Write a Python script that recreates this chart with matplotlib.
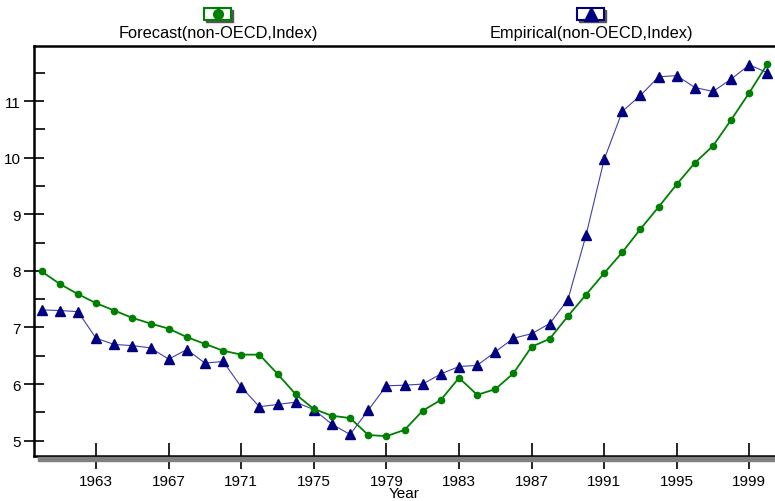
import matplotlib
matplotlib.use("Agg")
import matplotlib.pyplot as plt
from matplotlib.patches import Rectangle
from matplotlib.lines import Line2D

plt.rcParams["font.family"] = ["Liberation Sans", "DejaVu Sans"]

years = list(range(1960, 2001))
forecast = [7.99, 7.77, 7.59, 7.43, 7.30, 7.17, 7.07, 6.98, 6.83, 6.71,
            6.59, 6.52, 6.52, 6.18, 5.82, 5.56, 5.44, 5.40, 5.10, 5.08,
            5.19, 5.53, 5.72, 6.11, 5.81, 5.91, 6.19, 6.66, 6.80, 7.20,
            7.58, 7.96, 8.33, 8.74, 9.13, 9.53, 9.91, 10.21, 10.67, 11.15,
            11.66]
empirical = [7.31, 7.30, 7.28, 6.81, 6.70, 6.68, 6.64, 6.44, 6.61, 6.37,
             6.40, 5.95, 5.60, 5.64, 5.68, 5.55, 5.29, 5.11, 5.54, 5.97,
             5.98, 6.00, 6.18, 6.31, 6.33, 6.57, 6.81, 6.89, 7.07, 7.49,
             8.63, 9.97, 10.82, 11.10, 11.43, 11.45, 11.24, 11.17, 11.39, 11.64,
             11.50]
xticks = list(range(1963, 2000, 4))
yticks = list(range(5, 12))
yminor = [y + 0.5 for y in range(5, 12)]

green = "#008000"
navy = "#000080"

W, H = 775, 502
fig = plt.figure(figsize=(W / 100, H / 100), dpi=100)
ax = fig.add_axes([34 / W, 1 - 457.3 / H, 741 / W, (457.3 - 46.7) / H])

ax.plot(years, empirical, color="#4040a8", lw=0.8, marker="^", ms=7,
        mfc=navy, mec=navy, zorder=3)
ax.plot(years, forecast, color=green, lw=1.3, marker="o", ms=4.5,
        mfc=green, mec=green, zorder=4)

ax.set_xticks(xticks)
ax.set_xticklabels([str(y) for y in xticks], fontsize=11)
ax.set_yticks(yticks)
ax.set_yticklabels([str(y) for y in yticks], fontsize=11)
ax.set_yticks(yminor, minor=True)
ax.set_xlim(1959.58, 2000 + 7.5 / 18.145)
ax.set_ylim(4.724, 11.979)
ax.tick_params(axis="x", which="major", direction="inout", length=19, width=1.2, pad=3)
ax.tick_params(axis="y", which="major", direction="inout", length=15, width=1.2, pad=2)
ax.tick_params(axis="y", which="minor", direction="in", length=8, width=1.2)
ax.tick_params(axis="x", which="minor", bottom=False)

for side in ["left", "top", "bottom"]:
    ax.spines[side].set_linewidth(1.8)
ax.spines["right"].set_visible(False)

ax.set_xlabel("Year", fontsize=11, labelpad=-1)

# gray shadow under the x axis
fig.add_artist(Rectangle((38 / W, 1 - 461.5 / H), (W - 38) / W, 3.5 / H,
                         transform=fig.transFigure, color="#808080", zorder=1))

# legend boxes above the plot
def legendBox(cx, label, marker, color, ms):
    x0, y0, w, h = cx - 14, 9, 27, 12
    fig.add_artist(Rectangle(((x0 + 2) / W, 1 - (y0 + h + 2) / H), w / W, h / H,
                             transform=fig.transFigure, color="#555555", zorder=1))
    fig.add_artist(Rectangle((x0 / W, 1 - (y0 + h) / H), w / W, h / H,
                             transform=fig.transFigure, facecolor="white",
                             edgecolor=color, lw=1.5, zorder=2))
    fig.add_artist(Line2D([cx / W], [1 - (y0 + h / 2) / H], marker=marker, ms=ms,
                          color=color, transform=fig.transFigure, zorder=3))
    fig.text(cx / W, 1 - 34 / H, label, ha="center", va="center", fontsize=11.8)

legendBox(218, "Forecast(non-OECD,Index)", "o", green, 7)
legendBox(591, "Empirical(non-OECD,Index)", "^", navy, 10)

fig.savefig("out.png", dpi=100)
